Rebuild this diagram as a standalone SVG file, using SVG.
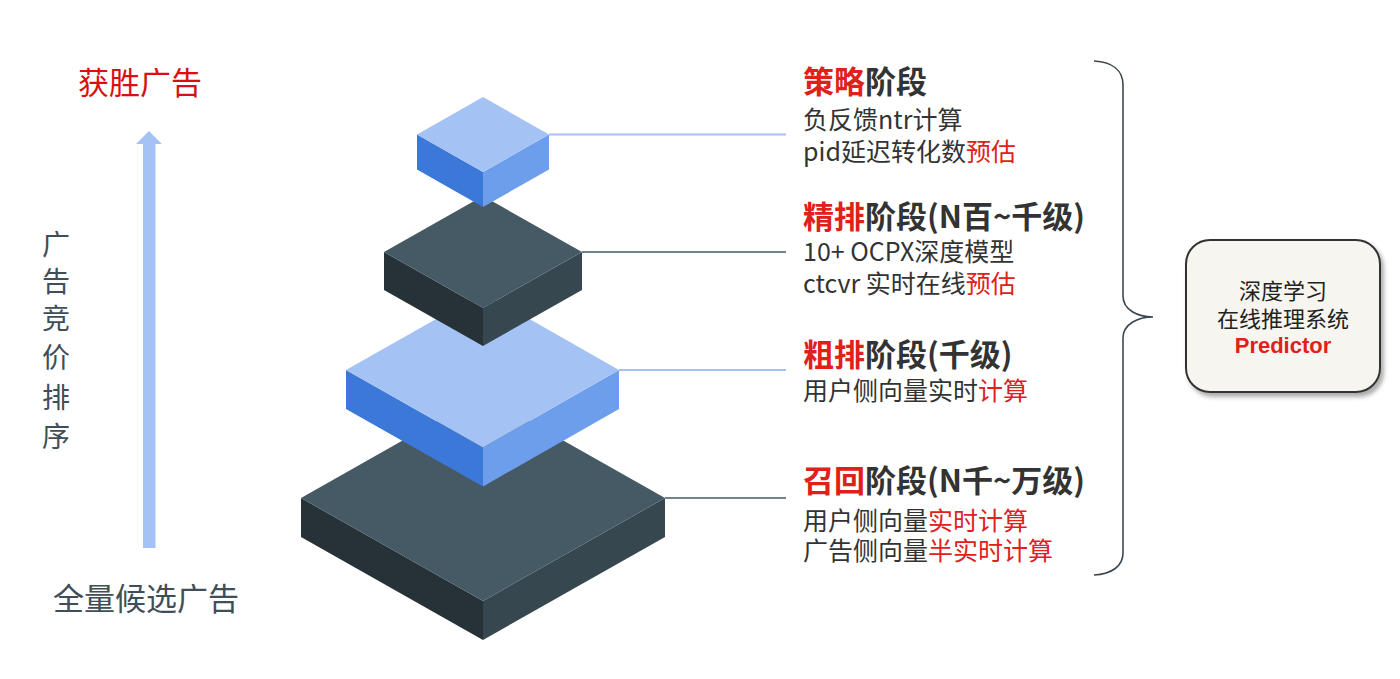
<svg xmlns="http://www.w3.org/2000/svg" width="1400" height="679" viewBox="0 0 1400 679">
<defs>
<style>
.bt{fill:#A4C2F4}.bl{fill:#3C78D8}.br{fill:#6D9EEB}
.dt{fill:#455A64}.dl{fill:#263238}.dr{fill:#37474F}
.ttl{font-family:"Noto Sans CJK SC","Noto Sans",sans-serif;font-size:31px;font-weight:700;fill:#333333}
.sub{font-family:"Noto Sans CJK SC","Noto Sans",sans-serif;font-size:25px;fill:#333333}
.red{fill:#E0201B}
.side{font-family:"Noto Sans CJK SC","Noto Sans",sans-serif;font-size:31px;fill:#3F4E57}
.vert{font-family:"Noto Sans CJK SC","Noto Sans",sans-serif;font-size:28px;fill:#3F4E57;text-anchor:middle}
.box{font-family:"Noto Sans CJK SC","Noto Sans",sans-serif;font-size:22px;fill:#222222;text-anchor:middle}
</style>
<filter id="sh" x="-10%" y="-10%" width="130%" height="130%">
<feDropShadow dx="3" dy="4" stdDeviation="2" flood-color="#777" flood-opacity="0.6"/>
</filter>
</defs>
<rect width="1400" height="679" fill="#ffffff"/>

<g id="connectors">
<line x1="549" y1="134.5" x2="786" y2="134.5" stroke="#A4C2F4" stroke-width="2"/>
<line x1="582" y1="252" x2="786" y2="252" stroke="#455A64" stroke-width="1.6"/>
<line x1="619" y1="370" x2="786" y2="370" stroke="#A4C2F4" stroke-width="2"/>
<line x1="665" y1="498" x2="786" y2="498" stroke="#455A64" stroke-width="1.6"/>
<path d="M1094,61 C1112,62 1123,70 1123,85 L1123,296 C1123,310 1138,317 1153,317 C1138,317 1123,324 1123,338 L1123,553 C1123,566 1112,574 1094,575" fill="none" stroke="#3A4750" stroke-width="1.6"/>
<polygon points="149,131 162,144 155.5,144 155.5,548 143,548 143,144 136,144" fill="#A4C2F4"/>
</g>

<g id="layer-recall">
<polygon class="dl" points="301,498 483,601 483,640 301,537"/>
<polygon class="dr" points="483,601 665,498 665,537 483,640"/>
<polygon class="dt" points="483,395 665,498 483,601 301,498"/>
</g>
<g id="layer-coarse">
<polygon class="bl" points="346,370 483,447.5 483,486.5 346,409"/>
<polygon class="br" points="483,447.5 619,370 619,409 483,486.5"/>
<polygon class="bt" points="483,292.5 619,370 483,447.5 346,370"/>
</g>
<g id="layer-fine">
<polygon class="dl" points="384,252 483,308 483,346 384,290"/>
<polygon class="dr" points="483,308 582,252 582,290 483,346"/>
<polygon class="dt" points="483,196 582,252 483,308 384,252"/>
</g>
<g id="layer-strategy">
<polygon class="bl" points="417,134.5 483,172 483,207 417,169.5"/>
<polygon class="br" points="483,172 549,134.5 549,169.5 483,207"/>
<polygon class="bt" points="483,97 549,134.5 483,172 417,134.5"/>
</g>

<g id="text-strategy">
<text class="ttl" x="803" y="93"><tspan class="red">策略</tspan>阶段</text>
<text class="sub" x="803" y="129">负反馈ntr计算</text>
<text class="sub" x="803" y="161">pid延迟转化数<tspan class="red">预估</tspan></text>
</g>
<g id="text-fine">
<text class="ttl" x="803" y="228"><tspan class="red">精排</tspan>阶段(N百~千级)</text>
<text class="sub" x="803" y="261">10+ OCPX深度模型</text>
<text class="sub" x="803" y="293">ctcvr 实时在线<tspan class="red">预估</tspan></text>
</g>
<g id="text-coarse">
<text class="ttl" x="803" y="366"><tspan class="red">粗排</tspan>阶段(千级)</text>
<text class="sub" x="803" y="400">用户侧向量实时<tspan class="red">计算</tspan></text>
</g>
<g id="text-recall">
<text class="ttl" x="803" y="492"><tspan class="red">召回</tspan>阶段(N千~万级)</text>
<text class="sub" x="803" y="530">用户侧向量<tspan class="red">实时计算</tspan></text>
<text class="sub" x="803" y="560">广告侧向量<tspan class="red">半实时计算</tspan></text>
</g>

<g id="predictor">
<rect x="1186" y="240" width="194" height="152" rx="24" fill="#F7F5EF" stroke="#333333" stroke-width="2" filter="url(#sh)"/>
<text class="box" x="1283" y="299">深度学习</text>
<text class="box" x="1283" y="327">在线推理系统</text>
<text x="1283" y="353" text-anchor="middle" font-family="'Liberation Sans',Arial,sans-serif" font-size="22" font-weight="700" fill="#E0201B">Predictor</text>
</g>

<g id="left-labels">
<text class="side" x="78" y="94" fill="#D9100F" style="fill:#D9100F">获胜广告</text>
<text class="vert" x="56" y="255">广</text>
<text class="vert" x="56" y="292">告</text>
<text class="vert" x="56" y="329">竞</text>
<text class="vert" x="56" y="368">价</text>
<text class="vert" x="56" y="408">排</text>
<text class="vert" x="56" y="447">序</text>
<text class="side" x="53" y="610">全量候选广告</text>
</g>
</svg>
